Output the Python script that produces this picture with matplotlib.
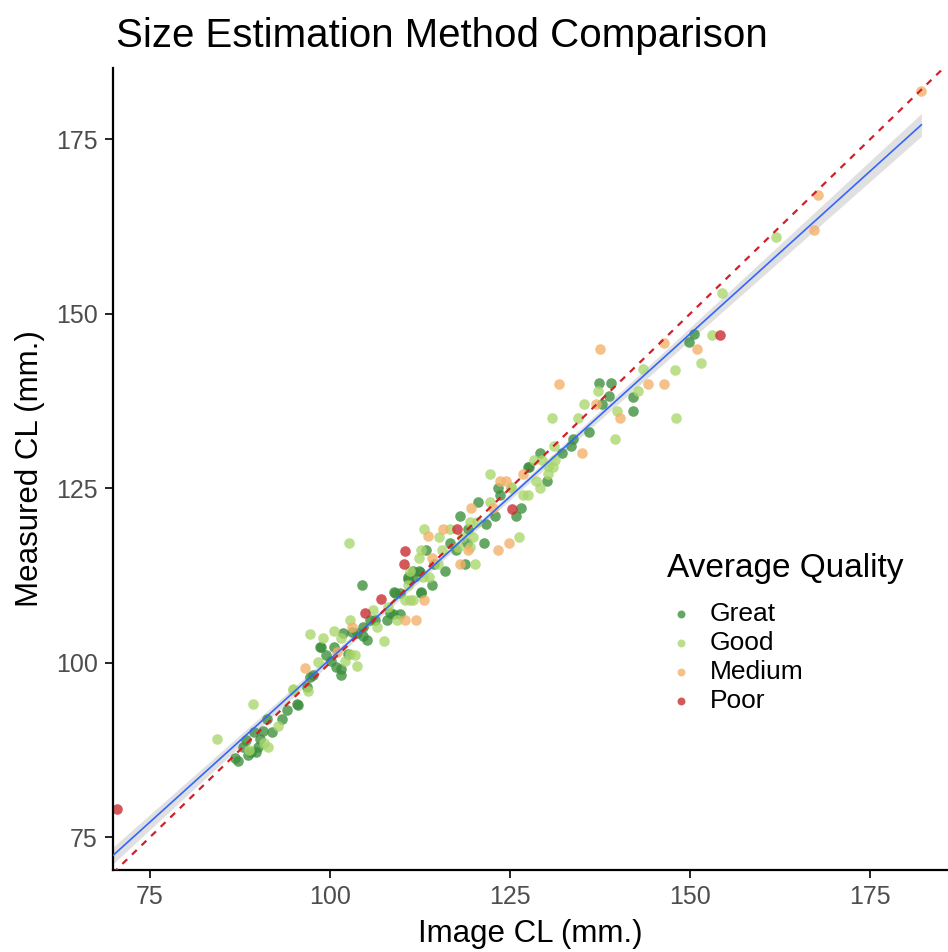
import numpy as np
import matplotlib
matplotlib.use('Agg')
import matplotlib.pyplot as plt

# Image CL (x) vs Measured CL (y), one list pair per quality class
great_x = [86.8, 87.3, 88.0, 88.6, 89.1, 89.8, 89.4, 90.3, 90.7, 91.2, 91.9, 93.3, 94.0, 95.6,
           95.4, 96.8, 97.2, 97.7, 98.6, 98.8, 100.5, 99.5, 100.2, 100.9, 101.6, 101.6, 102.5,
           101.8, 103.0, 103.7, 104.6, 105.1, 104.6, 105.6, 106.3, 107.9, 108.8, 109.7, 108.3,
           104.5, 109.0, 109.7, 110.9, 112.0, 112.5, 114.1, 112.7, 111.6, 112.4, 110.9, 114.4,
           113.3, 116.0, 117.5, 118.8, 116.7, 119.0, 121.4, 118.0, 119.2, 121.7, 120.5, 122.9,
           125.8, 126.5, 123.4, 123.6, 127.5, 129.1, 130.2, 127.7, 132.2, 133.4, 133.7, 135.9,
           137.7, 138.8, 142.1, 142.1, 137.3, 139.0, 150.6, 149.8, 112.6, 108.9, 88.4, 90.0]
great_y = [86.3, 86.0, 87.9, 86.8, 87.2, 87.2, 90.1, 89.1, 90.3, 92.0, 90.1, 92.0, 93.2, 94.0,
           94.1, 96.5, 98.0, 98.2, 102.2, 102.2, 102.2, 101.1, 100.3, 99.4, 99.1, 98.2, 101.3,
           104.2, 104.4, 104.2, 103.9, 103.2, 105.1, 106.1, 106.1, 106.1, 107.0, 107.0, 107.1,
           111.1, 110.0, 110.0, 112.0, 112.5, 113.0, 111.1, 110.1, 113.1, 113.1, 112.3, 114.1,
           116.1, 113.1, 116.1, 114.1, 117.1, 117.1, 117.1, 121.0, 119.1, 119.9, 123.1, 121.0,
           121.0, 122.1, 125.1, 124.1, 128.0, 130.0, 126.0, 128.0, 130.0, 131.0, 132.1, 133.0,
           137.0, 138.2, 138.0, 136.1, 140.1, 140.1, 147.1, 146.0, 110.0, 110.1, 88.9, 88.0]

good_x = [84.3, 89.3, 91.4, 92.8, 94.9, 97.0, 98.4, 97.2, 94.9, 102.1, 102.8, 103.5, 103.7,
          102.8, 106.5, 107.5, 109.3, 102.6, 111.6, 111.1, 110.4, 110.8, 111.1, 112.9, 113.8,
          112.3, 112.7, 115.6, 113.0, 116.7, 118.4, 115.2, 119.9, 126.3, 117.8, 119.4, 120.1,
          115.0, 119.4, 120.4, 122.2, 122.2, 125.1, 129.1, 126.8, 127.5, 128.3, 130.3, 131.1,
          128.6, 131.0, 131.2, 129.4, 130.3, 125.2, 130.8, 134.4, 135.3, 137.2, 139.9, 139.6,
          142.8, 143.5, 147.9, 148.1, 151.5, 153.0, 154.4, 161.9, 101.5, 100.5, 99.0, 88.7,
          90.8, 108.0, 106.0]
good_y = [89.1, 94.1, 88.0, 91.0, 96.1, 96.0, 100.1, 104.1, 96.3, 100.3, 101.3, 101.1, 99.6,
          106.1, 105.1, 103.1, 106.1, 117.1, 109.0, 109.0, 109.0, 111.2, 113.1, 112.3, 112.3,
          115.0, 116.1, 116.1, 119.1, 119.1, 118.0, 118.0, 118.0, 118.0, 116.6, 116.6, 114.1,
          114.1, 120.2, 120.2, 123.1, 127.1, 125.1, 125.1, 124.1, 124.1, 129.1, 128.2, 131.0,
          126.0, 128.0, 129.1, 129.1, 127.1, 125.2, 135.0, 135.0, 137.0, 138.9, 136.1, 132.0,
          139.0, 142.1, 142.0, 135.0, 143.0, 147.0, 153.0, 161.0, 103.5, 104.5, 103.5, 87.5,
          88.5, 108.0, 107.5]

medium_x = [96.5, 103.0, 110.4, 112.0, 113.0, 113.6, 115.7, 114.1, 119.1, 118.1, 119.6, 122.7,
            123.6, 126.8, 124.9, 123.4, 124.4, 135.0, 131.8, 137.0, 140.3, 144.1, 146.4, 137.5,
            146.4, 151.0, 167.7, 167.2, 182.1, 101.0]
medium_y = [99.2, 105.1, 106.1, 106.1, 109.0, 118.1, 119.1, 115.0, 116.1, 114.1, 122.1, 122.1,
            126.1, 127.1, 117.1, 116.1, 126.1, 130.0, 140.0, 137.0, 135.0, 140.0, 140.0, 145.0,
            145.8, 145.0, 167.0, 162.0, 181.9, 101.5]

poor_x = [70.4, 110.4, 110.3, 107.1, 104.9, 117.6, 125.3, 154.2]
poor_y = [79.1, 116.0, 114.1, 109.1, 107.1, 119.1, 122.0, 147.0]

classes = ['Great', 'Good', 'Medium', 'Poor']
colors = ['#3b8e3b', '#a8d66a', '#f4b068', '#c8282e']
xs = [great_x, good_x, medium_x, poor_x]
ys = [great_y, good_y, medium_y, poor_y]

plt.rcParams['font.family'] = ['Liberation Sans', 'DejaVu Sans']

fig = plt.figure(figsize=(9.48, 9.52), dpi=100)
ax = fig.add_axes([0.119, 0.086, 0.881, 0.8426])

xlim = (69.86, 185.8)
ylim = (70.3, 185.2)

# linear fit with 95% confidence band
all_x = np.concatenate([np.array(v) for v in xs])
all_y = np.concatenate([np.array(v) for v in ys])
slope, intercept = np.polyfit(all_x, all_y, 1)
n = len(all_x)
resid = all_y - (slope * all_x + intercept)
mse = np.sum(resid ** 2) / (n - 2)
sxx = np.sum((all_x - all_x.mean()) ** 2)
gx = np.linspace(xlim[0], all_x.max(), 200)
gy = slope * gx + intercept
se = np.sqrt(mse * (1 / n + (gx - all_x.mean()) ** 2 / sxx))
ax.fill_between(gx, gy - 1.97 * se, gy + 1.97 * se, color='#999999', alpha=0.3,
                lw=0, zorder=1)

for label, c, x, y in zip(classes, colors, xs, ys):
    ax.scatter(x, y, s=58, color=c, alpha=0.78, lw=0, label=label, zorder=2)

ax.plot(gx, gy, color='#3366FF', lw=1.2, zorder=3)
ax.plot(xlim, xlim, color='#d0202a', lw=1.6, ls=(0, (3, 3)), zorder=4)

ax.set_xlim(xlim)
ax.set_ylim(ylim)
ax.set_xticks([75, 100, 125, 150, 175])
ax.set_yticks([75, 100, 125, 150, 175])
for s in ['top', 'right']:
    ax.spines[s].set_visible(False)
for s in ['left', 'bottom']:
    ax.spines[s].set_linewidth(1.6)
ax.tick_params(length=6, width=1.2, labelsize=18, labelcolor='#4d4d4d', pad=5)

ax.set_xlabel('Image CL (mm.)', fontsize=22.5, labelpad=7)
ax.set_ylabel('Measured CL (mm.)', fontsize=22.5, labelpad=8)
fig.text(0.1224, 0.962, 'Size Estimation Method Comparison', fontsize=29, va='center', ha='left')

leg = ax.legend(title='Average Quality', loc='upper left', bbox_to_anchor=(0.690, 0.4335),
                bbox_transform=fig.transFigure, frameon=False, fontsize=19,
                title_fontsize=24, markerscale=0.75, handlelength=1.0, handletextpad=0.6,
                labelspacing=0.2, borderpad=0)
leg._legend_box.align = 'left'
leg._legend_box.sep = 13  # extra gap between title and entries

plt.savefig('out.png', dpi=100)
plt.close('all')
